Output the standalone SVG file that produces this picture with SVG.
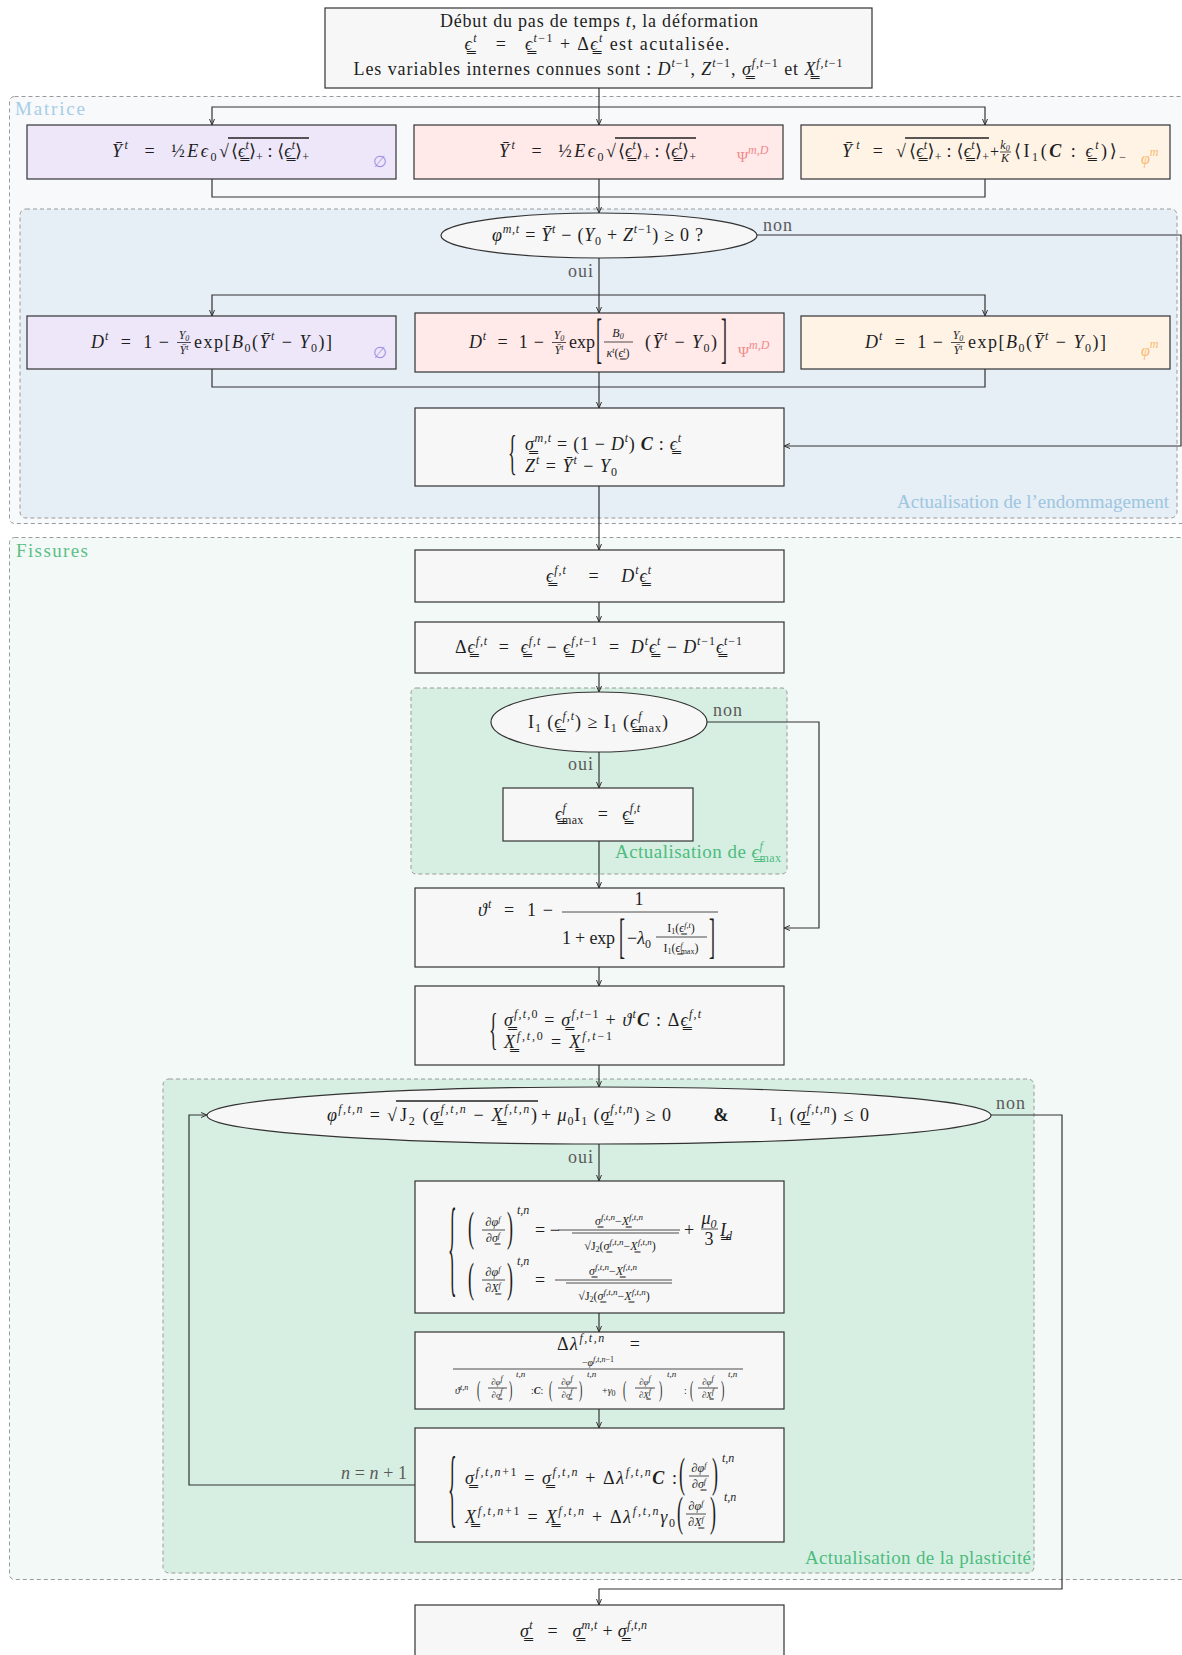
<svg xmlns="http://www.w3.org/2000/svg" width="1182" height="1655" viewBox="0 0 1182 1655">
<defs>
<style>
.t{font-family:"Liberation Serif","DejaVu Serif",serif;font-size:18px;fill:#1e1e1e}
.i{font-style:italic}
.bi{font-style:italic;font-weight:bold}
.s{font-size:12px;baseline-shift:8px}
.b{font-size:12px;baseline-shift:-4px}
.s2{font-size:8px;baseline-shift:4px}
.b2{font-size:8px;baseline-shift:-2px}
.s3{font-size:9px;baseline-shift:5px}
.sm{font-size:12px}
.xs{font-size:10px}
.tn{font-size:9px}
.cl{font-size:19px}
.box{fill:#f7f7f7;stroke:#333;stroke-width:1.2}
.clu{stroke:#9a9a9a;stroke-width:1;stroke-dasharray:4 3}
.ln{fill:none;stroke:#333;stroke-width:1.2}
.fl{stroke:#222;stroke-width:0.8}
.ovl{stroke:#222;stroke-width:1.3}
.lab{font-family:"Liberation Serif","DejaVu Serif",serif;font-size:18px;fill:#5a5a5a}
</style>
<marker id="ar" viewBox="0 0 8 8" refX="7" refY="4" markerWidth="8" markerHeight="8" orient="auto" markerUnits="userSpaceOnUse"><path d="M1,1.5 L7,4 L1,6.5" fill="none" stroke="#333" stroke-width="1"/></marker>
</defs>
<rect width="1182" height="1655" fill="#ffffff"/>

<!-- clusters -->
<g id="cluster-matrice">
<rect x="9.5" y="96.5" width="1190" height="427" rx="5" fill="#f8f9fb" class="clu"/>
<text x="15" y="115" class="t cl" textLength="70" style="fill:#a6cde6">Matrice</text>
</g>
<g id="cluster-endommagement">
<rect x="20" y="209" width="1157" height="309" rx="6" fill="#e6eef6" class="clu"/>
<text x="1169" y="508" class="t cl" text-anchor="end" textLength="272" style="fill:#9dc6e0">Actualisation de l’endommagement</text>
</g>
<g id="cluster-fissures">
<rect x="9.5" y="537.5" width="1190" height="1042" rx="5" fill="#f3f9f6" class="clu"/>
<text x="16" y="557" class="t cl" textLength="72" style="fill:#5cbf88">Fissures</text>
</g>
<g id="cluster-epsmax">
<rect x="411" y="688" width="376" height="186" rx="5" fill="#d7efe2" class="clu"/>
<text x="615" y="858" class="t cl" textLength="166" style="fill:#4cbc7e">Actualisation de <tspan class="i">ϵ̳</tspan><tspan class="s i">f</tspan><tspan class="b" dx="-4">max</tspan></text>
</g>
<g id="cluster-plasticite">
<rect x="163" y="1079" width="871" height="494" rx="6" fill="#d7efe2" class="clu"/>
<text x="1031" y="1564" class="t cl" text-anchor="end" textLength="226" style="fill:#4cbc7e">Actualisation de la plasticité</text>
</g>

<!-- connectors -->
<g id="connectors">
<path class="ln" d="M599,88 V125" marker-end="url(#ar)"/>
<path class="ln" d="M599,107 H212 V125" marker-end="url(#ar)"/>
<path class="ln" d="M599,107 H985 V125" marker-end="url(#ar)"/>
<path class="ln" d="M212,179 V197 H985 V179"/>
<path class="ln" d="M599,179 V213" marker-end="url(#ar)"/>
<path class="ln" d="M757,235 H1181 V446 H784" marker-end="url(#ar)"/>
<path class="ln" d="M599,258 V313" marker-end="url(#ar)"/>
<path class="ln" d="M599,295 H212 V316" marker-end="url(#ar)"/>
<path class="ln" d="M599,295 H985 V316" marker-end="url(#ar)"/>
<path class="ln" d="M212,369 V387 H985 V369"/>
<path class="ln" d="M599,372 V408" marker-end="url(#ar)"/>
<path class="ln" d="M599,486 V550" marker-end="url(#ar)"/>
<path class="ln" d="M599,602 V622" marker-end="url(#ar)"/>
<path class="ln" d="M599,673 V692" marker-end="url(#ar)"/>
<path class="ln" d="M707,722 H819 V928 H784" marker-end="url(#ar)"/>
<path class="ln" d="M599,752 V788" marker-end="url(#ar)"/>
<path class="ln" d="M599,841 V888" marker-end="url(#ar)"/>
<path class="ln" d="M599,967 V986" marker-end="url(#ar)"/>
<path class="ln" d="M599,1065 V1087" marker-end="url(#ar)"/>
<path class="ln" d="M599,1144 V1181" marker-end="url(#ar)"/>
<path class="ln" d="M599,1313 V1332" marker-end="url(#ar)"/>
<path class="ln" d="M599,1409 V1428" marker-end="url(#ar)"/>
<path class="ln" d="M415,1485 H189 V1115 H207" marker-end="url(#ar)"/>
<path class="ln" d="M991,1115 H1062 V1589 H599 V1605" marker-end="url(#ar)"/>
<text x="763" y="231" class="lab" textLength="29">non</text>
<text x="593" y="277" class="lab" text-anchor="end" textLength="25">oui</text>
<text x="713" y="716" class="lab" textLength="29">non</text>
<text x="593" y="770" class="lab" text-anchor="end" textLength="25">oui</text>
<text x="996" y="1109" class="lab" textLength="29">non</text>
<text x="593" y="1163" class="lab" text-anchor="end" textLength="25">oui</text>
<text x="407" y="1479" class="lab" text-anchor="end" textLength="66"><tspan class="i">n</tspan> = <tspan class="i">n</tspan> + 1</text>
</g>

<!-- top node -->
<g id="n-debut">
<rect class="box" x="325" y="8" width="547" height="80"/>
<text x="599" y="27" class="t" text-anchor="middle" textLength="318">Début du pas de temps <tspan class="i">t</tspan>, la déformation</text>
<text x="597" y="50" class="t" text-anchor="middle" textLength="265"><tspan class="i">ϵ̳</tspan><tspan class="s i">t</tspan>&#160;&#160;&#160;=&#160;&#160;&#160;<tspan class="i">ϵ̳</tspan><tspan class="s i">t</tspan><tspan class="s">−1</tspan>&#160;+&#160;Δ<tspan class="i">ϵ̳</tspan><tspan class="s i">t</tspan> est acutalisée.</text>
<text x="598" y="75" class="t" text-anchor="middle" textLength="489">Les variables internes connues sont : <tspan class="i">D</tspan><tspan class="s i">t</tspan><tspan class="s">−1</tspan>, <tspan class="i">Z</tspan><tspan class="s i">t</tspan><tspan class="s">−1</tspan>, <tspan class="i">σ̳</tspan><tspan class="s i">f,t</tspan><tspan class="s">−1</tspan> et <tspan class="i">X̳</tspan><tspan class="s i">f,t</tspan><tspan class="s">−1</tspan></text>
</g>

<!-- Y nodes -->
<g id="n-Y-iso">
<rect x="27" y="125" width="369" height="54" fill="#ede7f9" stroke="#333" stroke-width="1.2"/>
<text x="112" y="157" class="t" textLength="117"><tspan class="i">Ȳ</tspan><tspan class="s i">t</tspan>&#160;&#160;=&#160;&#160;½<tspan class="i">Eϵ</tspan><tspan class="b">0</tspan>√</text>
<text x="231" y="157" class="t" textLength="78">⟨<tspan class="i">ϵ̳</tspan><tspan class="s i">t</tspan>⟩<tspan class="b">+</tspan> : ⟨<tspan class="i">ϵ̳</tspan><tspan class="s i">t</tspan>⟩<tspan class="b">+</tspan></text>
<line class="ovl" x1="228" y1="138" x2="309" y2="138"/>
<text x="373" y="167" class="t" style="fill:#a58de6;font-size:16px">∅</text>
</g>
<g id="n-Y-psi">
<rect x="414" y="125" width="369" height="54" fill="#ffe9e9" stroke="#333" stroke-width="1.2"/>
<text x="499" y="157" class="t" textLength="117"><tspan class="i">Ȳ</tspan><tspan class="s i">t</tspan>&#160;&#160;=&#160;&#160;½<tspan class="i">Eϵ</tspan><tspan class="b">0</tspan>√</text>
<text x="618" y="157" class="t" textLength="78">⟨<tspan class="i">ϵ̳</tspan><tspan class="s i">t</tspan>⟩<tspan class="b">+</tspan> : ⟨<tspan class="i">ϵ̳</tspan><tspan class="s i">t</tspan>⟩<tspan class="b">+</tspan></text>
<line class="ovl" x1="615" y1="138" x2="696" y2="138"/>
<text x="737" y="162" class="t" style="fill:#f08a8a;font-size:15px">Ψ<tspan class="s i">m,D</tspan></text>
</g>
<g id="n-Y-phi">
<rect x="801" y="125" width="369" height="54" fill="#fff3e6" stroke="#333" stroke-width="1.2"/>
<text x="842" y="157" class="t" textLength="64"><tspan class="i">Ȳ</tspan><tspan class="s i">t</tspan>&#160;=&#160;√</text>
<text x="909" y="157" class="t" textLength="80">⟨<tspan class="i">ϵ̳</tspan><tspan class="s i">t</tspan>⟩<tspan class="b">+</tspan> : ⟨<tspan class="i">ϵ̳</tspan><tspan class="s i">t</tspan>⟩<tspan class="b">+</tspan></text>
<line class="ovl" x1="905" y1="138" x2="989" y2="138"/>
<text x="990" y="157" class="t" style="font-size:16px">+</text>
<text x="1005" y="149" class="t sm i" text-anchor="middle">k<tspan class="b2">0</tspan></text>
<line class="fl" x1="1000" y1="152" x2="1011" y2="152"/>
<text x="1005" y="162" class="t sm i" text-anchor="middle">K</text>
<text x="1014" y="157" class="t" textLength="112">⟨I<tspan class="b">1</tspan>(<tspan class="bi">C</tspan> : <tspan class="i">ϵ̳</tspan><tspan class="s i">t</tspan>)⟩<tspan class="b">−</tspan></text>
<text x="1141" y="164" class="t i" style="fill:#f9b96a;font-size:16px">φ<tspan class="s">m</tspan></text>
</g>

<!-- phi m decision -->
<g id="n-phim">
<ellipse cx="599" cy="235.5" rx="158" ry="22.5" fill="#f7f7f7" stroke="#333" stroke-width="1.2"/>
<text x="597.5" y="241" class="t" text-anchor="middle" textLength="211"><tspan class="i">φ</tspan><tspan class="s i">m,t</tspan> = <tspan class="i">Ȳ</tspan><tspan class="s i">t</tspan> − (<tspan class="i">Y</tspan><tspan class="b">0</tspan> + <tspan class="i">Z</tspan><tspan class="s i">t</tspan><tspan class="s">−1</tspan>) ≥ 0 ?</text>
</g>

<!-- D nodes -->
<g id="n-D-iso">
<rect x="27" y="316" width="369" height="53" fill="#ede7f9" stroke="#333" stroke-width="1.2"/>
<text x="91" y="348" class="t" textLength="78"><tspan class="i">D</tspan><tspan class="s i">t</tspan>&#160;&#160;=&#160;&#160;1 −</text>
<text x="184" y="339" class="t sm i" text-anchor="middle">Y<tspan class="b2">0</tspan></text>
<line class="fl" x1="177" y1="342.5" x2="191" y2="342.5"/>
<text x="184" y="354" class="t sm i" text-anchor="middle">Ȳ<tspan class="s2">t</tspan></text>
<text x="194" y="348" class="t" textLength="138">exp[<tspan class="i">B</tspan><tspan class="b">0</tspan>(<tspan class="i">Ȳ</tspan><tspan class="s i">t</tspan> − <tspan class="i">Y</tspan><tspan class="b">0</tspan>)]</text>
<text x="373" y="358" class="t" style="fill:#a58de6;font-size:16px">∅</text>
</g>
<g id="n-D-psi">
<rect x="415" y="313" width="369" height="59" fill="#ffe9e9" stroke="#333" stroke-width="1.2"/>
<text x="469" y="348" class="t" textLength="75"><tspan class="i">D</tspan><tspan class="s i">t</tspan>&#160;&#160;=&#160;&#160;1 −</text>
<text x="559" y="339" class="t sm i" text-anchor="middle">Y<tspan class="b2">0</tspan></text>
<line class="fl" x1="552" y1="342.5" x2="566" y2="342.5"/>
<text x="559" y="354" class="t sm i" text-anchor="middle">Ȳ<tspan class="s2">t</tspan></text>
<text x="569" y="348" class="t">exp</text>
<text class="t" transform="translate(596,357) scale(1,3.1)">[</text>
<text x="618" y="337" class="t sm i" text-anchor="middle">B<tspan class="b2">0</tspan></text>
<line class="fl" x1="604" y1="342" x2="633" y2="342"/>
<text x="618" y="357" class="t sm" text-anchor="middle"><tspan class="i">κ</tspan><tspan class="s2 i">t</tspan>(<tspan class="i">ϵ̳</tspan><tspan class="s2 i">t</tspan>)</text>
<text x="645" y="348" class="t" textLength="72">(<tspan class="i">Ȳ</tspan><tspan class="s i">t</tspan> − <tspan class="i">Y</tspan><tspan class="b">0</tspan>)</text>
<text class="t" transform="translate(721,357) scale(1,3.1)">]</text>
<text x="738" y="357" class="t" style="fill:#f08a8a;font-size:15px">Ψ<tspan class="s i">m,D</tspan></text>
</g>
<g id="n-D-phi">
<rect x="801" y="316" width="369" height="53" fill="#fff3e6" stroke="#333" stroke-width="1.2"/>
<text x="865" y="348" class="t" textLength="78"><tspan class="i">D</tspan><tspan class="s i">t</tspan>&#160;&#160;=&#160;&#160;1 −</text>
<text x="958" y="339" class="t sm i" text-anchor="middle">Y<tspan class="b2">0</tspan></text>
<line class="fl" x1="951" y1="342.5" x2="965" y2="342.5"/>
<text x="958" y="354" class="t sm i" text-anchor="middle">Ȳ<tspan class="s2">t</tspan></text>
<text x="968" y="348" class="t" textLength="138">exp[<tspan class="i">B</tspan><tspan class="b">0</tspan>(<tspan class="i">Ȳ</tspan><tspan class="s i">t</tspan> − <tspan class="i">Y</tspan><tspan class="b">0</tspan>)]</text>
<text x="1141" y="356" class="t i" style="fill:#f9b96a;font-size:16px">φ<tspan class="s">m</tspan></text>
</g>

<!-- sigma m -->
<g id="n-sigmam">
<rect class="box" x="415" y="408" width="369" height="78"/>
<text class="t" transform="translate(508,469) scale(1,2.73)">{</text>
<text x="525" y="450" class="t" textLength="156"><tspan class="i">σ̳</tspan><tspan class="s i">m,t</tspan> = (1 − <tspan class="i">D</tspan><tspan class="s i">t</tspan>) <tspan class="bi">C</tspan> : <tspan class="i">ϵ̳</tspan><tspan class="s i">t</tspan></text>
<text x="525" y="472" class="t" textLength="92"><tspan class="i">Z</tspan><tspan class="s i">t</tspan> = <tspan class="i">Ȳ</tspan><tspan class="s i">t</tspan> − <tspan class="i">Y</tspan><tspan class="b">0</tspan></text>
</g>

<!-- fissures -->
<g id="n-epsf">
<rect class="box" x="415" y="550" width="369" height="52"/>
<text x="598.5" y="582" class="t" text-anchor="middle" textLength="105"><tspan class="i">ϵ̳</tspan><tspan class="s i">f,t</tspan>&#160;&#160;&#160;&#160;=&#160;&#160;&#160;&#160;<tspan class="i">D</tspan><tspan class="s i">t</tspan><tspan class="i">ϵ̳</tspan><tspan class="s i">t</tspan></text>
</g>
<g id="n-deltaepsf">
<rect class="box" x="415" y="622" width="369" height="51"/>
<text x="598.5" y="653" class="t" text-anchor="middle" textLength="287">Δ<tspan class="i">ϵ̳</tspan><tspan class="s i">f,t</tspan>&#160;&#160;=&#160;&#160;<tspan class="i">ϵ̳</tspan><tspan class="s i">f,t</tspan> − <tspan class="i">ϵ̳</tspan><tspan class="s i">f,t</tspan><tspan class="s">−1</tspan>&#160;&#160;=&#160;&#160;<tspan class="i">D</tspan><tspan class="s i">t</tspan><tspan class="i">ϵ̳</tspan><tspan class="s i">t</tspan> − <tspan class="i">D</tspan><tspan class="s i">t</tspan><tspan class="s">−1</tspan><tspan class="i">ϵ̳</tspan><tspan class="s i">t</tspan><tspan class="s">−1</tspan></text>
</g>
<g id="n-I1">
<ellipse cx="599" cy="722" rx="108" ry="30" fill="#f7f7f7" stroke="#333" stroke-width="1.2"/>
<text x="598" y="728" class="t" text-anchor="middle" textLength="140">I<tspan class="b">1</tspan> (<tspan class="i">ϵ̳</tspan><tspan class="s i">f,t</tspan>) ≥ I<tspan class="b">1</tspan> (<tspan class="i">ϵ̳</tspan><tspan class="s i">f</tspan><tspan class="b" dx="-4">max</tspan>)</text>
</g>
<g id="n-epsmax">
<rect class="box" x="503" y="788" width="190" height="53"/>
<text x="597.5" y="820" class="t" text-anchor="middle" textLength="85"><tspan class="i">ϵ̳</tspan><tspan class="s i">f</tspan><tspan class="b" dx="-4">max</tspan>&#160;&#160;&#160;=&#160;&#160;&#160;<tspan class="i">ϵ̳</tspan><tspan class="s i">f,t</tspan></text>
</g>
<g id="n-theta">
<rect class="box" x="415" y="888" width="369" height="79"/>
<text x="478" y="916" class="t" textLength="75"><tspan class="i">ϑ</tspan><tspan class="s i">t</tspan>&#160;&#160;=&#160;&#160;1 −</text>
<text x="639" y="905" class="t" text-anchor="middle">1</text>
<line class="fl" x1="562" y1="912" x2="718" y2="912"/>
<text x="562" y="944" class="t" textLength="53">1 + exp</text>
<text class="t" transform="translate(619,951.5) scale(1,2.7)">[</text>
<text x="627" y="944" class="t">−<tspan class="i">λ</tspan><tspan class="b">0</tspan></text>
<text x="681" y="932" class="t sm" text-anchor="middle">I<tspan class="b2">1</tspan>(<tspan class="i">ϵ̳</tspan><tspan class="s2 i">f,t</tspan>)</text>
<line class="fl" x1="656" y1="937" x2="707" y2="937"/>
<text x="681" y="952" class="t sm" text-anchor="middle">I<tspan class="b2">1</tspan>(<tspan class="i">ϵ̳</tspan><tspan class="s2 i">f</tspan><tspan class="b2" dx="-2">max</tspan>)</text>
<text class="t" transform="translate(709,951.5) scale(1,2.7)">]</text>
</g>
<g id="n-sigmaf0">
<rect class="box" x="415" y="986" width="369" height="79"/>
<text class="t" transform="translate(489,1043.5) scale(1,2.45)">{</text>
<text x="504" y="1026" class="t" textLength="197"><tspan class="i">σ̳</tspan><tspan class="s i">f,t,</tspan><tspan class="s">0</tspan> = <tspan class="i">σ̳</tspan><tspan class="s i">f,t</tspan><tspan class="s">−1</tspan> + <tspan class="i">ϑ</tspan><tspan class="s i">t</tspan><tspan class="bi">C</tspan> : Δ<tspan class="i">ϵ̳</tspan><tspan class="s i">f,t</tspan></text>
<text x="504" y="1048" class="t" textLength="108"><tspan class="i">X̳</tspan><tspan class="s i">f,t,</tspan><tspan class="s">0</tspan> = <tspan class="i">X̳</tspan><tspan class="s i">f,t</tspan><tspan class="s">−1</tspan></text>
</g>

<!-- plasticity -->
<g id="n-phif">
<ellipse cx="599" cy="1115.5" rx="392" ry="28.5" fill="#f7f7f7" stroke="#333" stroke-width="1.2"/>
<text x="327" y="1121" class="t" textLength="70"><tspan class="i">φ</tspan><tspan class="s i">f,t,n</tspan> = √</text>
<text x="400" y="1121" class="t" textLength="137">J<tspan class="b">2</tspan> (<tspan class="i">σ̳</tspan><tspan class="s i">f,t,n</tspan> − <tspan class="i">X̳</tspan><tspan class="s i">f,t,n</tspan>)</text>
<line class="ovl" x1="396" y1="1101" x2="538" y2="1101"/>
<text x="541" y="1121" class="t" textLength="130">+ <tspan class="i">μ</tspan><tspan class="b">0</tspan>I<tspan class="b">1</tspan> (<tspan class="i">σ̳</tspan><tspan class="s i">f,t,n</tspan>) ≥ 0</text>
<text x="721" y="1121" class="t" text-anchor="middle" font-weight="bold">&amp;</text>
<text x="770" y="1121" class="t" textLength="99">I<tspan class="b">1</tspan> (<tspan class="i">σ̳</tspan><tspan class="s i">f,t,n</tspan>) ≤ 0</text>
</g>
<g id="n-derivees">
<rect class="box" x="415" y="1181" width="369" height="132"/>
<text class="t" transform="translate(448,1283) scale(1,6.05)">{</text>
<text class="t" transform="translate(468,1241) scale(1,2.3)">(</text>
<text x="493" y="1226" class="t sm" text-anchor="middle">∂<tspan class="i">φ</tspan><tspan class="s2 i">f</tspan></text>
<line class="fl" x1="482" y1="1230" x2="505" y2="1230"/>
<text x="493" y="1242" class="t sm" text-anchor="middle">∂<tspan class="i">σ̳</tspan><tspan class="s2 i">f</tspan></text>
<text class="t" transform="translate(507,1241) scale(1,2.3)">)</text>
<text x="517" y="1214" class="t sm i">t,n</text>
<text x="535" y="1236" class="t">= −</text>
<text x="619" y="1225" class="t sm" text-anchor="middle"><tspan class="i">σ̳</tspan><tspan class="s3 i">f,t,n</tspan>−<tspan class="i">X̳</tspan><tspan class="s3 i">f,t,n</tspan></text>
<line class="fl" x1="558" y1="1230" x2="680" y2="1230"/>
<text x="620" y="1250" class="t sm" text-anchor="middle">√J<tspan class="b2">2</tspan>(<tspan class="i">σ̳</tspan><tspan class="s3 i">f,t,n</tspan>−<tspan class="i">X̳</tspan><tspan class="s3 i">f,t,n</tspan>)</text>
<line class="fl" x1="572" y1="1233" x2="679" y2="1233"/>
<text x="684" y="1236" class="t">+</text>
<text x="709" y="1224" class="t i" text-anchor="middle">μ<tspan class="b">0</tspan></text>
<line class="fl" x1="701" y1="1229" x2="718" y2="1229"/>
<text x="709" y="1245" class="t" text-anchor="middle">3</text>
<text x="720" y="1236" class="t i">I̳<tspan class="b">d</tspan></text>
<text class="t" transform="translate(468,1292) scale(1,2.3)">(</text>
<text x="493" y="1276" class="t sm" text-anchor="middle">∂<tspan class="i">φ</tspan><tspan class="s2 i">f</tspan></text>
<line class="fl" x1="482" y1="1280" x2="505" y2="1280"/>
<text x="493" y="1292" class="t sm" text-anchor="middle">∂<tspan class="i">X̳</tspan><tspan class="s2 i">f</tspan></text>
<text class="t" transform="translate(507,1292) scale(1,2.3)">)</text>
<text x="517" y="1265" class="t sm i">t,n</text>
<text x="535" y="1286" class="t">=</text>
<text x="613" y="1275" class="t sm" text-anchor="middle"><tspan class="i">σ̳</tspan><tspan class="s3 i">f,t,n</tspan>−<tspan class="i">X̳</tspan><tspan class="s3 i">f,t,n</tspan></text>
<line class="fl" x1="555" y1="1280" x2="672" y2="1280"/>
<text x="614" y="1300" class="t sm" text-anchor="middle">√J<tspan class="b2">2</tspan>(<tspan class="i">σ̳</tspan><tspan class="s3 i">f,t,n</tspan>−<tspan class="i">X̳</tspan><tspan class="s3 i">f,t,n</tspan>)</text>
<line class="fl" x1="566" y1="1283" x2="672" y2="1283"/>
</g>
<g id="n-deltalambda">
<rect class="box" x="415" y="1332" width="369" height="77"/>
<text x="557" y="1350" class="t" textLength="83">Δ<tspan class="i">λ</tspan><tspan class="s i">f,t,n</tspan>&#160;&#160;&#160;&#160;=</text>
<text x="598" y="1366" class="t xs" text-anchor="middle">−<tspan class="i">φ</tspan><tspan class="s2 i">f,t,n</tspan><tspan class="s2">−1</tspan></text>
<line class="fl" x1="453" y1="1369" x2="743" y2="1369"/>
<text x="455" y="1394" class="t xs"><tspan class="i">ϑ</tspan><tspan class="s2 i">t,n</tspan></text>
<text class="t xs" transform="translate(477,1397) scale(1,2.3)">(</text>
<text x="497" y="1385" class="t tn" text-anchor="middle">∂<tspan class="i">φ</tspan><tspan class="s2 i">f</tspan></text>
<line class="fl" x1="488" y1="1388" x2="507" y2="1388"/>
<text x="497" y="1398" class="t tn" text-anchor="middle">∂<tspan class="i">σ̳</tspan><tspan class="s2 i">f</tspan></text>
<text class="t xs" transform="translate(509,1397) scale(1,2.3)">)</text>
<text x="516" y="1377" class="t i tn">t,n</text>
<text x="531" y="1394" class="t xs">:<tspan class="bi">C</tspan>:</text>
<text class="t xs" transform="translate(549,1397) scale(1,2.3)">(</text>
<text x="567" y="1385" class="t tn" text-anchor="middle">∂<tspan class="i">φ</tspan><tspan class="s2 i">f</tspan></text>
<line class="fl" x1="558" y1="1388" x2="577" y2="1388"/>
<text x="567" y="1398" class="t tn" text-anchor="middle">∂<tspan class="i">σ̳</tspan><tspan class="s2 i">f</tspan></text>
<text class="t xs" transform="translate(579,1397) scale(1,2.3)">)</text>
<text x="587" y="1377" class="t i tn">t,n</text>
<text x="602" y="1394" class="t xs">+<tspan class="i">γ</tspan><tspan class="b2">0</tspan></text>
<text class="t xs" transform="translate(623,1397) scale(1,2.3)">(</text>
<text x="645" y="1385" class="t tn" text-anchor="middle">∂<tspan class="i">φ</tspan><tspan class="s2 i">f</tspan></text>
<line class="fl" x1="635" y1="1388" x2="655" y2="1388"/>
<text x="645" y="1398" class="t tn" text-anchor="middle">∂<tspan class="i">X̳</tspan><tspan class="s2 i">f</tspan></text>
<text class="t xs" transform="translate(659,1397) scale(1,2.3)">)</text>
<text x="667" y="1377" class="t i tn">t,n</text>
<text x="684" y="1394" class="t xs">:</text>
<text class="t xs" transform="translate(690,1397) scale(1,2.3)">(</text>
<text x="708" y="1385" class="t tn" text-anchor="middle">∂<tspan class="i">φ</tspan><tspan class="s2 i">f</tspan></text>
<line class="fl" x1="698" y1="1388" x2="718" y2="1388"/>
<text x="708" y="1398" class="t tn" text-anchor="middle">∂<tspan class="i">X̳</tspan><tspan class="s2 i">f</tspan></text>
<text class="t xs" transform="translate(721,1397) scale(1,2.3)">)</text>
<text x="728" y="1377" class="t i tn">t,n</text>
</g>
<g id="n-update">
<rect class="box" x="415" y="1428" width="369" height="114"/>
<text class="t" transform="translate(448,1516) scale(1,4.77)">{</text>
<text x="465" y="1484" class="t" textLength="212"><tspan class="i">σ̳</tspan><tspan class="s i">f,t,n</tspan><tspan class="s">+1</tspan> = <tspan class="i">σ̳</tspan><tspan class="s i">f,t,n</tspan> + Δ<tspan class="i">λ</tspan><tspan class="s i">f,t,n</tspan><tspan class="bi">C</tspan> :</text>
<text class="t" transform="translate(679,1487) scale(1,2.3)">(</text>
<text x="699" y="1472" class="t sm" text-anchor="middle">∂<tspan class="i">φ</tspan><tspan class="s2 i">f</tspan></text>
<line class="fl" x1="689" y1="1476" x2="709" y2="1476"/>
<text x="699" y="1488" class="t sm" text-anchor="middle">∂<tspan class="i">σ̳</tspan><tspan class="s2 i">f</tspan></text>
<text class="t" transform="translate(712,1487) scale(1,2.3)">)</text>
<text x="722" y="1462" class="t sm i">t,n</text>
<text x="465" y="1523" class="t" textLength="210"><tspan class="i">X̳</tspan><tspan class="s i">f,t,n</tspan><tspan class="s">+1</tspan> = <tspan class="i">X̳</tspan><tspan class="s i">f,t,n</tspan> + Δ<tspan class="i">λ</tspan><tspan class="s i">f,t,n</tspan><tspan class="i">γ</tspan><tspan class="b">0</tspan></text>
<text class="t" transform="translate(677,1526) scale(1,2.3)">(</text>
<text x="696" y="1510" class="t sm" text-anchor="middle">∂<tspan class="i">φ</tspan><tspan class="s2 i">f</tspan></text>
<line class="fl" x1="686" y1="1514" x2="706" y2="1514"/>
<text x="696" y="1526" class="t sm" text-anchor="middle">∂<tspan class="i">X̳</tspan><tspan class="s2 i">f</tspan></text>
<text class="t" transform="translate(710,1526) scale(1,2.3)">)</text>
<text x="724" y="1501" class="t sm i">t,n</text>
</g>
<g id="n-final">
<rect class="box" x="415" y="1605" width="369" height="60"/>
<text x="583.5" y="1637" class="t" text-anchor="middle" textLength="127"><tspan class="i">σ̳</tspan><tspan class="s i">t</tspan>&#160;&#160;&#160;=&#160;&#160;&#160;<tspan class="i">σ̳</tspan><tspan class="s i">m,t</tspan> + <tspan class="i">σ̳</tspan><tspan class="s i">f,t,n</tspan></text>
</g>
</svg>
